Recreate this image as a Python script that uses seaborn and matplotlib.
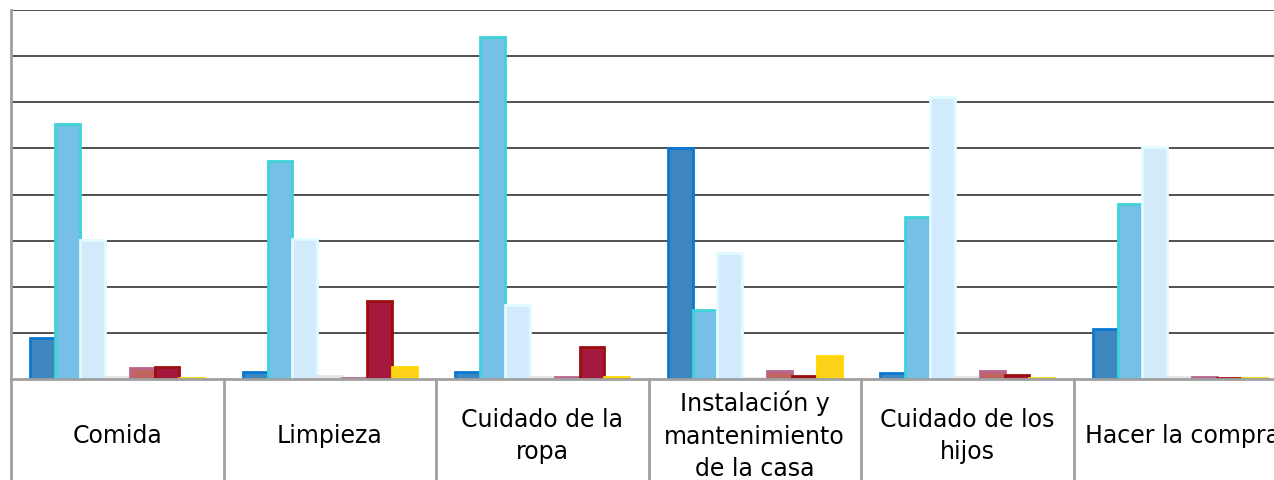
import numpy as np
import pandas as pd
import seaborn as sns
import matplotlib.pyplot as plt
from matplotlib.transforms import blended_transform_factory

tareas = ['Comida', 'Limpieza', 'Cuidado de la\nropa',
          'Instalación y\nmantenimiento\nde la casa', 'Cuidado de los\nhijos', 'Hacer la compra']
series = ['Serie 1', 'Serie 2', 'Serie 3', 'Serie 4', 'Serie 5', 'Serie 6', 'Serie 7']

serie1 = [0.89, 0.15, 0.15, 5.01, 0.13, 1.08]
serie2 = [5.53, 4.73, 7.42, 1.50, 3.51, 3.80]
serie3 = [3.02, 3.04, 1.60, 2.73, 6.12, 5.03]
serie4 = [0.05, 0.07, 0.05, 0.03, 0.04, 0.04]
serie5 = [0.24, 0.03, 0.05, 0.17, 0.18, 0.04]
serie6 = [0.26, 1.69, 0.69, 0.07, 0.08, 0.02]
serie7 = [0.02, 0.26, 0.04, 0.50, 0.02, 0.02]

fill_colors = ['#3D87BE', '#76BFE6', '#D2EBFC', '#D9D9D9', '#C0645F', '#A4193D', '#FFD21A']
edge_colors = ['#0A78D2', '#3DD3D6', '#E2FBFF', '#E6E6E6', '#B8658F', '#9C0E0E', '#FFD700']

valores = [serie1, serie2, serie3, serie4, serie5, serie6, serie7]
df = pd.DataFrame([
    {'tarea': t, 'serie': s, 'valor': v}
    for s, vals in zip(series, valores)
    for t, v in zip(tareas, vals)
])

sns.set_style('white')
plt.rcParams['font.family'] = ['DejaVu Sans']

fig = plt.figure(figsize=(12.74, 4.81), dpi=100)
ax = fig.add_axes([11 / 1274, 101 / 481, 1275 / 1274, 369 / 481])

sns.barplot(data=df, x='tarea', y='valor', hue='serie', order=tareas, hue_order=series,
            palette=fill_colors, saturation=1, width=0.82, gap=0, legend=False, ax=ax)

for cont, ec in zip(ax.containers, edge_colors):
    for bar in cont:
        bar.set_edgecolor(ec)
        bar.set_linewidth(2)

ax.set_xlim(-0.5, 5.5)
ax.set_ylim(0, 8)
ax.set_yticks(range(1, 9))
ax.set_yticklabels([])
ax.set_xticks([])
ax.set_xlabel('')
ax.set_ylabel('')
ax.tick_params(length=0)
ax.set_axisbelow(True)
ax.yaxis.grid(True, color='#222222', linewidth=1.1)

for side in ['top', 'right']:
    ax.spines[side].set_visible(False)
for side in ['left', 'bottom']:
    ax.spines[side].set_color('#A0A0A0')
    ax.spines[side].set_linewidth(2)

# label box below the plot
trans = blended_transform_factory(ax.transData, ax.transAxes)
for i in range(6):
    ax.plot([i - 0.5, i - 0.5], [0, -0.4], transform=trans, color='#A0A0A0',
            linewidth=2, clip_on=False)
for i, t in enumerate(tareas):
    if i == len(tareas) - 1:
        ax.text(i - 0.5 + 11.5 / 212.5, -0.152, t, transform=trans, ha='left', va='center',
                fontsize=17, color='black')
    else:
        ax.text(i, -0.152, t, transform=trans, ha='center', va='center',
                fontsize=17, color='black', linespacing=1.45)

fig.savefig('out.png', dpi=100)
